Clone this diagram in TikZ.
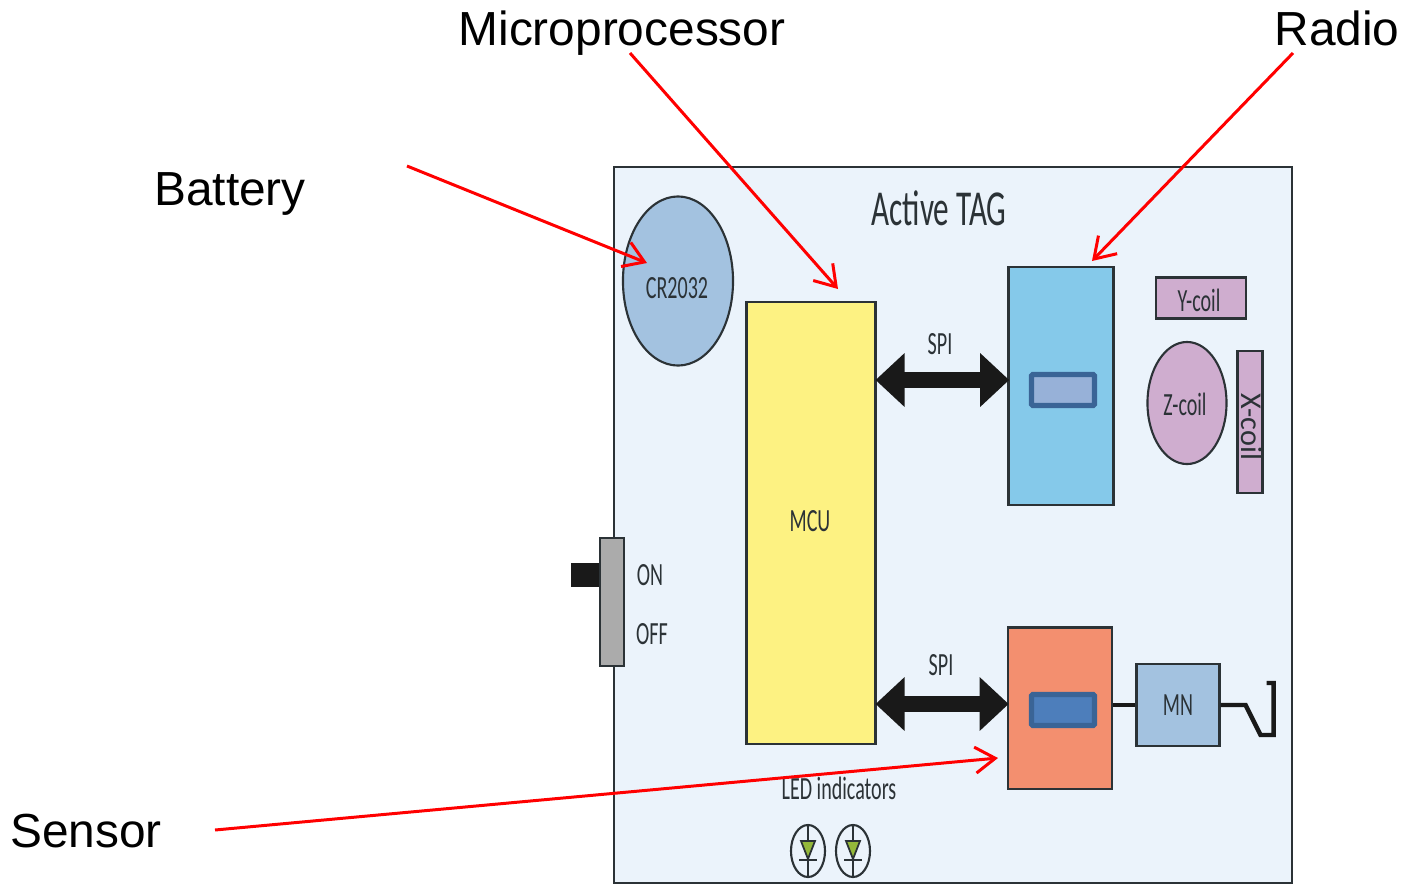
\documentclass[tikz,border=0pt]{standalone}
\usepackage{fontspec}
\setmainfont{Liberation Sans}
\newfontfamily\tagfont[FakeStretch=0.62]{Carlito}
\newfontfamily\coilfont{Carlito}
\usetikzlibrary{arrows.meta,shapes.geometric}
\definecolor{panelblue}{HTML}{EBF3FB}
\definecolor{cellblue}{HTML}{A3C2E0}
\definecolor{mcuyellow}{HTML}{FDF282}
\definecolor{radioblue}{HTML}{85C9EA}
\definecolor{coilpink}{HTML}{CFADCF}
\definecolor{sensorred}{HTML}{F38F6F}
\definecolor{chipedge}{HTML}{3A6496}
\definecolor{chiplight}{HTML}{97B1D8}
\definecolor{chipdark}{HTML}{4D7EBB}
\definecolor{ledgreen}{HTML}{94B83A}
\definecolor{darkline}{HTML}{2B3236}
\tikzset{
    box/.style={draw=darkline,line width=0.6pt,inner sep=0pt,font=\tagfont\fontsize{9.2}{9.2}\selectfont,text=darkline},
    disc/.style={box,ellipse},
    chip/.style={draw=chipedge,line width=1.5pt,rounded corners=0.4pt,inner sep=0pt,minimum width=0.63cm,minimum height=0.31cm},
    tag/.style={inner sep=0pt,text=darkline,font=\tagfont\fontsize{9.2}{9.2}\selectfont},
    callout/.style={inner sep=0pt,font=\fontsize{13.6}{13.6}\selectfont},
    pointer/.style={draw=red,line width=0.85pt,-{Straight Barb[length=2mm,width=2.6mm]}},
    spibus/.style={draw=black!90,line width=4.6pt,{Triangle[length=2.9mm,width=5.2mm]}-{Triangle[length=2.9mm,width=5.2mm]},shorten <=-0.3pt,shorten >=-0.5pt},
    wire/.style={draw=black!90,line width=1.25pt},
}
\begin{document}
\begin{tikzpicture}[x=0.01cm,y=-0.01cm]
    \useasboundingbox (0,0) rectangle (1405,884);
    % board
    \node[box,fill=panelblue,minimum width=6.78cm,minimum height=7.16cm] (board) at (953,525) {};
    \node[tag,font=\tagfont\fontsize{14.3}{14.3}\selectfont] (title) at (939,208) {Active TAG};
    % blocks
    \node[disc,fill=cellblue,minimum width=1.10cm,minimum height=1.69cm] (cell) at (678,281) {};
    \node[tag] (celllabel) at (677,288) {CR2032};
    \node[box,fill=mcuyellow,minimum width=1.29cm,minimum height=4.42cm] (mcu) at (811,523) {};
    \node[tag] (mculabel) at (810,521) {MCU};
    \node[box,fill=radioblue,minimum width=1.05cm,minimum height=2.38cm] (radio) at (1061,386) {};
    \node[chip,fill=chiplight] (radiochip) at (1063,390) {};
    \node[box,fill=coilpink,minimum width=0.90cm,minimum height=0.41cm] (ycoil) at (1201,298) {};
    \node[tag] (ylabel) at (1199,300) {Y-coil};
    \node[disc,fill=coilpink,minimum width=0.79cm,minimum height=1.22cm] (zcoil) at (1187,403) {};
    \node[tag] (zlabel) at (1185,404) {Z-coil};
    \node[box,fill=coilpink,minimum width=0.25cm,minimum height=1.42cm] (xcoil) at (1250,422) {};
    \node[inner sep=0pt,rotate=-90,text=darkline,font=\coilfont\fontsize{8.6}{8.6}\selectfont] (xlabel) at (1252,427) {X-coil};
    \node[box,fill=sensorred,minimum width=1.04cm,minimum height=1.61cm] (sensor) at (1060,708) {};
    \node[chip,fill=chipdark] (sensorchip) at (1063,710) {};
    \node[box,fill=cellblue,minimum width=0.83cm,minimum height=0.82cm] (mn) at (1178,705) {MN};
    % switch
    \node[fill=black!90,inner sep=0pt,minimum width=0.29cm,minimum height=0.24cm] (knob) at (586,575) {};
    \node[box,fill=black!33,minimum width=0.24cm,minimum height=1.28cm] (switch) at (612,602) {};
    \node[tag] (on) at (650,575) {ON};
    \node[tag] (off) at (652,634) {OFF};
    % buses
    \coordinate (busa) at (942,380);
    \coordinate (busb) at (942,704);
    \draw[spibus] (mcu.east |- busa) -- (radio.west |- busa);
    \draw[spibus] (mcu.east |- busb) -- (sensor.west |- busb);
    \node[tag] (spia) at (940,344) {SPI};
    \node[tag] (spib) at (941,665) {SPI};
    % antenna
    \draw[wire] (sensor.east |- mn) -- (mn.west);
    \draw[wire] (mn.east) -- ++(25,0) -- ++(15,30) -- ++(13,0) -- ++(0,-52) -- ++(-7,0);
    % leds
    \node[tag] (ledlabel) at (839,788) {LED indicators};
    \foreach \i/\xpos in {1/808,2/853} {
        \node[draw=darkline,line width=0.6pt,ellipse,fill=panelblue,inner sep=0pt,minimum width=0.34cm,minimum height=0.52cm] (led\i) at (\xpos,851) {};
        \draw[darkline,line width=0.5pt] (led\i.north) -- (led\i.south);
        \draw[darkline,line width=0.5pt,fill=ledgreen] (\xpos-7,841) -- (\xpos+7,841) -- (\xpos,859) -- cycle;
        \draw[darkline,line width=0.6pt] (\xpos-9,860) -- (\xpos+9,860);
    }
    % callouts
    \node[callout] (microlabel) at (622,33) {Microprocessor};
    \node[callout] (radiolabel) at (1337,28) {Radio};
    \node[callout] (batterylabel) at (230,194) {Battery};
    \node[callout] (sensorlabel) at (86,831) {Sensor};
    \coordinate (microstart) at (630,53);
    \coordinate (microend) at (838,289);
    \coordinate (radiostart) at (1293,53);
    \coordinate (radioend) at (1092,261);
    \coordinate (batterystart) at (407,166);
    \coordinate (batteryend) at (647,263);
    \coordinate (sensorstart) at (215,830);
    \coordinate (sensorend) at (998,758);
    \draw[pointer] (microstart) -- (microend);
    \draw[pointer] (radiostart) -- (radioend);
    \draw[pointer] (batterystart) -- (batteryend);
    \draw[pointer] (sensorstart) -- (sensorend);
\end{tikzpicture}
\end{document}
